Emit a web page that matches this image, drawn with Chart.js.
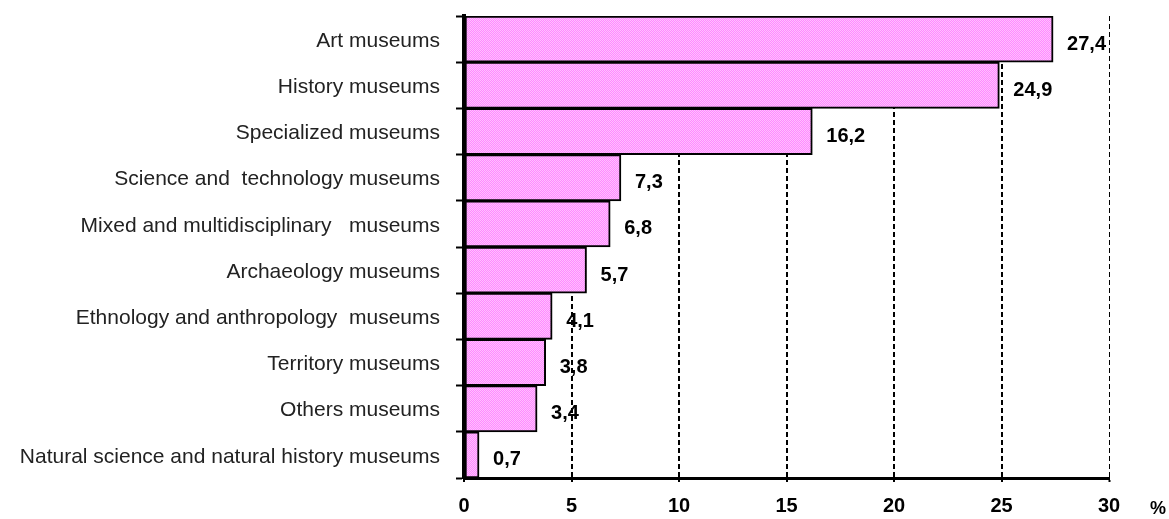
<!DOCTYPE html>
<html>
<head>
<meta charset="utf-8">
<script src="https://cdn.jsdelivr.net/npm/chart.js@4"></script>
<style>
  html, body { margin: 0; padding: 0; background: #ffffff; }
  #wrap { width: 1169px; height: 519px; position: relative; }
</style>
</head>
<body>
<div id="wrap"><canvas id="c" width="1169" height="519"></canvas></div>
<script>
const categories = [
  "Art museums",
  "History museums",
  "Specialized museums",
  "Science and  technology museums",
  "Mixed and multidisciplinary   museums",
  "Archaeology museums",
  "Ethnology and anthropology  museums",
  "Territory museums",
  "Others museums",
  "Natural science and natural history museums"
];
const values = [27.4, 24.9, 16.2, 7.3, 6.8, 5.7, 4.1, 3.8, 3.4, 0.7];
const xTicks = [0, 5, 10, 15, 20, 25, 30];
const unitLabel = "%";

const FONT = "'Liberation Sans', Arial, Helvetica, sans-serif";

function makePattern() {
  const p = document.createElement('canvas');
  p.width = 2; p.height = 2;
  const g = p.getContext('2d');
  g.fillStyle = '#ff8aff'; g.fillRect(0, 0, 2, 2);
  g.fillStyle = '#ffc0ff'; g.fillRect(0, 0, 1, 1); g.fillRect(1, 1, 1, 1);
  return g.createPattern(p, 'repeat');
}

const valueLabels = {
  id: 'valueLabels',
  afterDatasetsDraw(chart) {
    const ctx = chart.ctx;
    const meta = chart.getDatasetMeta(0);
    ctx.save();
    ctx.font = "bold 20px " + FONT;
    ctx.fillStyle = '#000';
    ctx.textAlign = 'left';
    ctx.textBaseline = 'middle';
    meta.data.forEach((bar, i) => {
      const txt = values[i].toFixed(1).replace('.', ',');
      ctx.fillText(txt, bar.x + 14, bar.y + 5);
    });
    ctx.restore();
  }
};

const unitPlugin = {
  id: 'unitPlugin',
  afterDraw(chart) {
    const ctx = chart.ctx;
    const xs = chart.scales.x;
    ctx.save();
    ctx.font = "bold 18px " + FONT;
    ctx.fillStyle = '#000';
    ctx.textAlign = 'left';
    ctx.textBaseline = 'middle';
    ctx.fillText(unitLabel, xs.right + 41, xs.top + 31);
    ctx.restore();
  }
};

const ctx = document.getElementById('c').getContext('2d');
new Chart(ctx, {
  type: 'bar',
  data: {
    labels: categories,
    datasets: [{
      data: values,
      backgroundColor: makePattern(),
      borderColor: '#000',
      borderWidth: 2,
      borderSkipped: false,
      barPercentage: 1.0,
      categoryPercentage: 1.0
    }]
  },
  options: {
    indexAxis: 'y',
    responsive: false,
    animation: false,
    devicePixelRatio: 1,
    layout: { padding: { top: 16, right: 60, left: 0, bottom: 0 } },
    plugins: { legend: { display: false }, tooltip: { enabled: false } },
    scales: {
      x: {
        type: 'linear',
        min: 0, max: 30,
        afterBuildTicks(scale) { scale.ticks = xTicks.map(v => ({ value: v })); },
        afterFit(scale) { scale.height = 41; scale.paddingLeft = 0; scale.paddingRight = 0; },
        border: { display: true, color: '#000', width: 3, dash: [5, 3] },
        grid: {
          display: true,
          drawOnChartArea: true,
          drawTicks: true,
          tickLength: 4,
          color: '#000',
          lineWidth: (c) => (c.tick && c.tick.value === 30 ? 1 : 2),
          tickColor: '#000',
          tickWidth: 2
        },
        ticks: {
          color: '#000',
          font: { family: FONT, size: 20, weight: 'bold' },
          padding: 12,
          maxRotation: 0,
          autoSkip: false
        }
      },
      y: {
        type: 'category',
        afterFit(scale) { scale.width = 464; scale.paddingTop = 0; scale.paddingBottom = 0; },
        border: { display: true, color: '#000', width: 4 },
        grid: {
          display: true,
          offset: true,
          drawOnChartArea: false,
          drawTicks: true,
          tickLength: 8,
          tickColor: '#000',
          tickWidth: 2
        },
        ticks: {
          color: '#222',
          font: { family: FONT, size: 21 },
          padding: 16,
          labelOffset: 2,
          autoSkip: false
        }
      }
    }
  },
  plugins: [valueLabels, unitPlugin]
});
</script>
</body>
</html>
